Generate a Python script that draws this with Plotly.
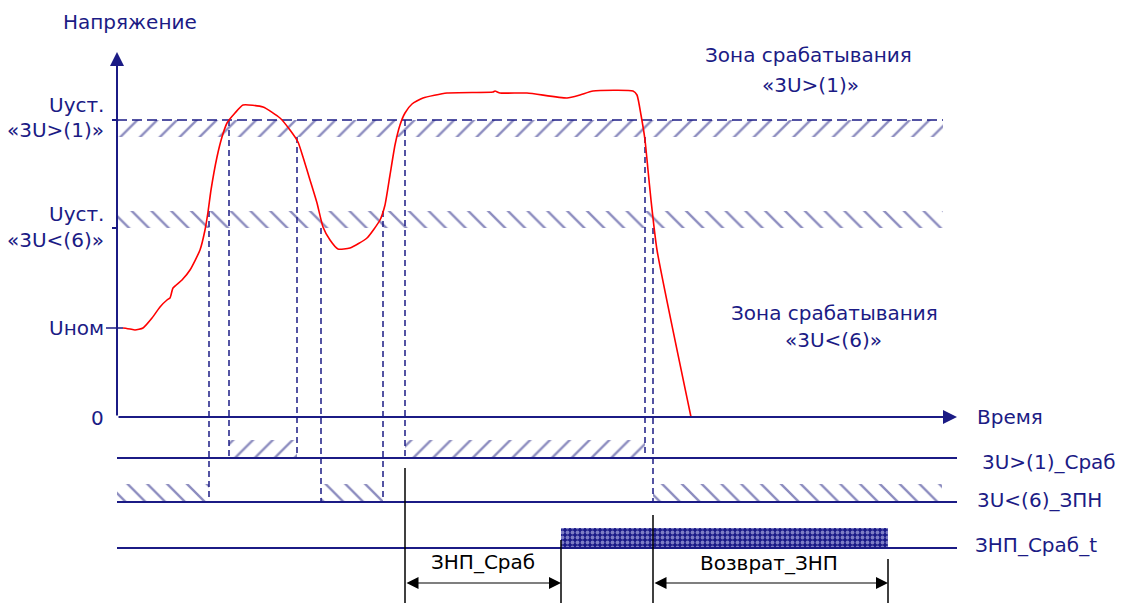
import plotly.graph_objects as go

NAVY = "#1b1b85"
HATCH = "#1a1a80"
RED = "#ff0000"
FONT = "DejaVu Sans"

# ---- Voltage curve: time (arbitrary units from origin) vs voltage (arbitrary units, 0 = time axis)
t_curve = [6, 13, 18, 26, 35, 43, 50, 53, 54, 56, 65, 73, 83, 88, 91, 94, 100, 105, 110, 118, 126,
           146, 163, 173, 181, 186, 193, 200, 206, 213, 221, 233, 250, 263, 268, 273, 278, 283, 288,
           295, 306, 330, 376, 378, 383, 410, 450, 463, 476, 516, 520, 524, 528, 531, 534, 540, 574]
u_curve = [89, 88, 87, 89, 99, 110, 117, 119, 122, 129, 137, 147, 167, 187, 205, 227, 260, 280, 294, 304, 312,
           310, 299, 287, 275, 260, 237, 214, 190, 177, 168, 169, 179, 197, 212, 242, 272, 292, 304,
           313, 319, 324, 325, 326, 324, 324, 319, 322, 326, 326, 322, 302, 277, 247, 217, 167, 0]

# ---- Levels
U_NOM = 89
U_SET_OV = 297      # 3U>(1) setting
U_RET_OV = 280      # 3U>(1) return level
U_SET_UV = 189      # 3U<(6) setting
U_RET_UV = 206      # 3U<(6) return level
BAND_END = 826
AXIS_T_END = 840
AXIS_U_END = 365

# ---- Logic signal rows (levels below the time axis)
ROW_OV = -41
ROW_UV = -85
ROW_T = -131
ROW_END = 840
SIG_H = 18
TIMER_H = 20

# active intervals
ov_on = [112, 288]
ov_off = [180, 528]
uv_on = [0, 204, 536]
uv_off = [92, 266, 825]
timer_start = 444
timer_end = 771
znp_start = 288
znp_reset = 536

# dashed projection lines: (time, top voltage, bottom row)
proj_t = [92, 112, 180, 204, 266, 288, 528, 536]
proj_top = [U_RET_UV, U_SET_OV, U_RET_OV, U_SET_UV, U_RET_UV, U_SET_OV, U_RET_OV, U_SET_UV]
proj_row = [ROW_UV, ROW_OV, ROW_OV, ROW_UV, ROW_UV, ROW_OV, ROW_OV, ROW_UV]

BOTTOM = -186
ARROW_Y = -166

fig = go.Figure()


def band(x0, x1, y0, y1, shape):
    fig.add_trace(go.Scatter(
        x=[x0, x1, x1, x0, x0], y=[y0, y0, y1, y1, y0], mode="lines",
        line=dict(width=0, color="rgba(0,0,0,0)"), fill="toself",
        fillcolor="rgba(0,0,0,0)",
        fillpattern=dict(shape=shape, fgcolor=HATCH, bgcolor="rgba(0,0,0,0)", size=14, solidity=0.17),
        hoverinfo="skip"))


def seg(xs, ys, color=NAVY, width=2, dash="solid"):
    fig.add_trace(go.Scatter(x=xs, y=ys, mode="lines",
                             line=dict(color=color, width=width, dash=dash), hoverinfo="skip"))


# hysteresis bands
band(0, BAND_END, U_RET_OV, U_SET_OV, "/")
band(0, BAND_END, U_SET_UV, U_RET_UV, "\\")
seg([0, BAND_END], [U_SET_OV, U_SET_OV], color=NAVY, width=1.5, dash="10px,5px")

# signal hatches
for a, b in zip(ov_on, ov_off):
    band(a, b, ROW_OV, ROW_OV + SIG_H, "/")
for a, b in zip(uv_on, uv_off):
    band(a, b, ROW_UV, ROW_UV + SIG_H, "\\")

# timer bar
fig.add_trace(go.Scatter(
    x=[timer_start, timer_end, timer_end, timer_start, timer_start],
    y=[ROW_T, ROW_T, ROW_T + TIMER_H, ROW_T + TIMER_H, ROW_T], mode="lines",
    line=dict(width=0, color="rgba(0,0,0,0)"), fill="toself", fillcolor="#1a1a8a",
    fillpattern=dict(shape=".", fgcolor="#e0e0ff", bgcolor="#1a1a88", size=5, solidity=0.45),
    hoverinfo="skip"))

# row lines
for r in [ROW_OV, ROW_UV, ROW_T]:
    seg([0, ROW_END], [r, r], width=2)

# projection dashed lines
for t, top, row in zip(proj_t, proj_top, proj_row):
    seg([t, t], [top, row], color=NAVY, width=1.5, dash="6px,4px")

# black markers of timer
seg([znp_start, znp_start], [-51, BOTTOM], color="black", width=1.5)
seg([timer_start, timer_start], [-123, BOTTOM], color="black", width=1.5)
seg([znp_reset, znp_reset], [-98, BOTTOM], color="black", width=1.5)
seg([timer_end, timer_end], [-142, BOTTOM], color="black", width=1.5)

# ticks
seg([-5, 0], [U_SET_OV, U_SET_OV], width=2)
seg([-5, 0], [U_SET_UV, U_SET_UV], width=2)
seg([-11, 6], [U_NOM, U_NOM], width=1.5)

# voltage curve
fig.add_trace(go.Scatter(x=t_curve, y=u_curve, mode="lines",
                         line=dict(color=RED, width=1.6, shape="spline", smoothing=0.5),
                         hoverinfo="skip"))

ann = []
# axes with arrows
ann.append(dict(x=0, y=AXIS_U_END, ax=0, ay=0, xref="x", yref="y", axref="x", ayref="y",
                showarrow=True, arrowhead=2, arrowsize=1.4, arrowwidth=2, arrowcolor=NAVY, text="",
                standoff=0))
ann.append(dict(x=AXIS_T_END, y=0, ax=0, ay=0, xref="x", yref="y", axref="x", ayref="y",
                showarrow=True, arrowhead=2, arrowsize=1.4, arrowwidth=2, arrowcolor=NAVY, text="",
                standoff=0))
# dimension arrows
for a, b in [(znp_start, timer_start), (znp_reset, timer_end)]:
    ann.append(dict(x=b, y=ARROW_Y, ax=a, ay=ARROW_Y, xref="x", yref="y", axref="x", ayref="y",
                    showarrow=True, arrowhead=2, startarrowhead=2, arrowside="end+start",
                    arrowsize=2.0, startarrowsize=2.0, arrowwidth=1.2, arrowcolor="black", text="",
                    standoff=0, startstandoff=0))


def txt(x, y, s, anchor="center", color=NAVY, size=20):
    ann.append(dict(x=x, y=y, xref="x", yref="y", text=s, showarrow=False, xanchor=anchor,
                    yanchor="middle", font=dict(family=FONT, size=size, color=color)))


txt(13, 395, "Напряжение")
txt(-11, 312, "Uуст.", "right")
txt(-11, 287, "«3U>(1)»", "right")
txt(-11, 203, "Uуст.", "right")
txt(-11, 177, "«3U<(6)»", "right")
txt(-11, 89, "Uном", "right")
txt(-11, -1, "0", "right")
txt(691, 362, "Зона срабатывания")
txt(693, 332, "«3U>(1)»")
txt(717, 104, "Зона срабатывания")
txt(716, 77, "«3U<(6)»")
txt(858, 0, "Время", "left")
txt(863, -45, "3U>(1)_Сраб", "left")
txt(858, -83, "3U<(6)_ЗПН", "left")
txt(856, -128, "ЗНП_Сраб_t", "left")
txt(366, -145, "ЗНП_Сраб", color="black")
txt(652, -146, "Возврат_ЗНП", color="black")

fig.update_layout(
    width=1124, height=603, margin=dict(l=0, r=0, t=0, b=0),
    paper_bgcolor="white", plot_bgcolor="white", showlegend=False,
    xaxis=dict(range=[-117, 1007], visible=False, fixedrange=True),
    yaxis=dict(range=[-186, 417], visible=False, fixedrange=True),
    annotations=ann,
)

fig.write_html("out.html", config={"displayModeBar": False},
               post_script="document.body.style.margin='0';document.body.style.overflow='hidden';")
